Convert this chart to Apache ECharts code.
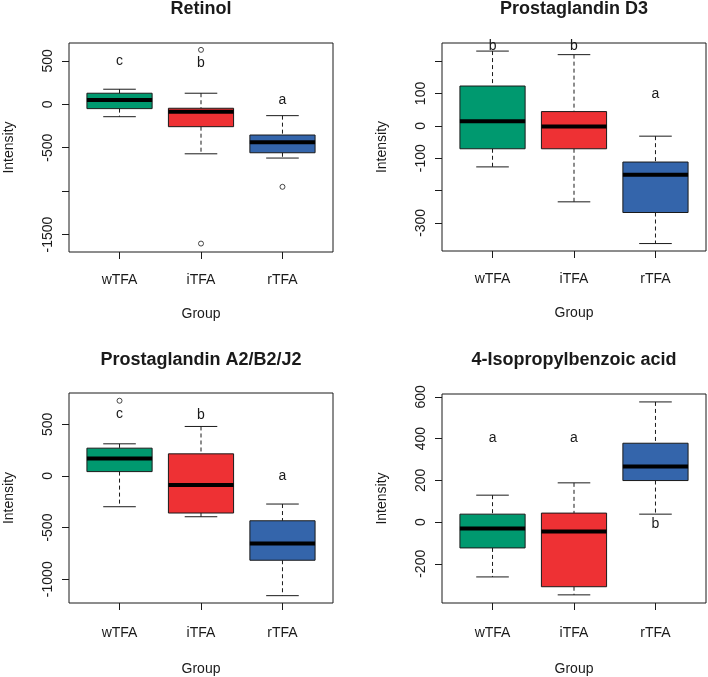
<!DOCTYPE html>
<html><head><meta charset="utf-8">
<script src="https://cdn.jsdelivr.net/npm/echarts@6/dist/echarts.min.js"></script>
<style>html,body{margin:0;padding:0;background:#fff}#c{width:708px;height:677px}</style>
</head><body><div id="c"></div>
<script>
// ---- data ----
const categories = ['wTFA', 'iTFA', 'rTFA'];
const titles = ['Retinol', 'Prostaglandin D3', 'Prostaglandin A2/B2/J2', '4-Isopropylbenzoic acid'];
// [whiskerLow, Q1, median, Q3, whiskerHigh] per group
const retinolStats = [[-143, -50, 50, 127, 173], [-570, -258, -85, -46, 127], [-619, -558, -438, -354, -131]];
const pgd3Stats = [[-127, -71, 14, 123, 231], [-235, -71, -2, 44, 220], [-364, -268, -151, -112, -32]];
const pga2Stats = [[-298, 42, 168, 269, 311], [-395, -359, -87, 214, 479], [-1159, -816, -653, -434, -272]];
const ipbaStats = [[-263, -124, -31, 38, 129], [-349, -310, -45, 43, 188], [38, 199, 266, 378, 576]];
// outliers [groupIndex(1-based), value]
const retinolOutliers = [[2, 626], [2, -1603], [3, -950]];
const pgd3Outliers = [];
const pga2Outliers = [[1, 728]];
const ipbaOutliers = [];
// significance letters and heights
const retinolLetters = ['c', 'b', 'a'];
const retinolLetterY = [500, 470, 50];
const pgd3Letters = ['b', 'b', 'a'];
const pgd3LetterY = [245, 245, 98];
const pga2Letters = ['c', 'b', 'a'];
const pga2LetterY = [600, 585, 0];
const ipbaLetters = ['a', 'a', 'b'];
const ipbaLetterY = [400, 400, -10];
// y axis ranges, ticks, labels
const yRanges = [[-1700, 705], [-387, 256], [-1230, 803], [-388, 614]];
const yTicks = [[-1500, -1000, -500, 0, 500], [-300, -200, -100, 0, 100, 200], [-1000, -500, 0, 500], [-200, 0, 200, 400, 600]];
const yLabels = [[-1500, -500, 0, 500], [-300, -100, 0, 100], [-1000, -500, 0, 500], [-200, 0, 200, 400, 600]];

const fillColors = ['#00996F', '#EE3134', '#3465AB'];
const ink = '#1a1a1a';
const FONT = '"Liberation Sans", Arial, sans-serif';

const panels = [
  {stats: retinolStats, out: retinolOutliers, letters: retinolLetters, ly: retinolLetterY},
  {stats: pgd3Stats, out: pgd3Outliers, letters: pgd3Letters, ly: pgd3LetterY},
  {stats: pga2Stats, out: pga2Outliers, letters: pga2Letters, ly: pga2LetterY},
  {stats: ipbaStats, out: ipbaOutliers, letters: ipbaLetters, ly: ipbaLetterY}
];
const grids = [
  {left: 69, top: 43, width: 264, height: 209},
  {left: 442, top: 43, width: 264, height: 208},
  {left: 69, top: 393, width: 264, height: 210},
  {left: 442, top: 394, width: 264, height: 209}
];
const titleTops = [0, 0, 351, 351];
const xLabelMargins = [21, 21, 23, 23];
const xNameGaps = [55, 55, 59, 59];

const option = {
  animation: false,
  backgroundColor: '#fff',
  title: titles.map((t, i) => ({
    text: t, left: grids[i].left + grids[i].width / 2, top: titleTops[i], textAlign: 'center', padding: 0,
    textStyle: {fontFamily: FONT, fontSize: 18, fontWeight: 'bold', color: ink}
  })),
  grid: grids.map(g => Object.assign({show: true, borderColor: ink, borderWidth: 1, backgroundColor: 'transparent'}, g)),
  xAxis: grids.map((g, i) => ({
    type: 'value', gridIndex: i, min: 0.38, max: 3.62, position: 'bottom',
    name: 'Group', nameLocation: 'middle', nameGap: xNameGaps[i],
    nameTextStyle: {fontFamily: FONT, fontSize: 14, color: ink},
    axisLine: {show: false, onZero: false}, splitLine: {show: false},
    axisTick: {show: true, inside: false, length: 7, customValues: [1, 2, 3], lineStyle: {color: ink}},
    axisLabel: {customValues: [1, 2, 3], margin: xLabelMargins[i], fontFamily: FONT, fontSize: 14, color: ink,
      formatter: v => categories[Math.round(v) - 1] || ''}
  })),
  yAxis: grids.map((g, i) => ({
    type: 'value', gridIndex: i, min: yRanges[i][0], max: yRanges[i][1], position: 'left',
    name: 'Intensity', nameLocation: 'middle', nameGap: 53,
    nameTextStyle: {fontFamily: FONT, fontSize: 14, color: ink},
    axisLine: {show: false, onZero: false}, splitLine: {show: false},
    axisTick: {show: true, inside: false, length: 7, customValues: yTicks[i], lineStyle: {color: ink}},
    axisLabel: {customValues: yLabels[i], rotate: 90, margin: 14, fontFamily: FONT, fontSize: 14, color: ink,
      formatter: v => String(v)}
  })),
  series: []
};

panels.forEach((p, i) => {
  option.series.push({
    type: 'custom', xAxisIndex: i, yAxisIndex: i,
    encode: {x: 0, y: [1, 2, 3, 4, 5]},
    data: p.stats.map((s, k) => [k + 1].concat(s)),
    renderItem: function (params, api) {
      const x = api.value(0);
      const k = Math.round(x) - 1;
      const bw = api.size([0.8, 0])[0];
      const cw = bw / 2;
      const pLo = api.coord([x, api.value(1)]);
      const pQ1 = api.coord([x, api.value(2)]);
      const pMd = api.coord([x, api.value(3)]);
      const pQ3 = api.coord([x, api.value(4)]);
      const pHi = api.coord([x, api.value(5)]);
      const cx = pMd[0];
      const dash = {stroke: ink, lineWidth: 1, lineDash: [4, 3]};
      const solid = {stroke: ink, lineWidth: 1};
      return {
        type: 'group',
        children: [
          {type: 'line', shape: {x1: cx, y1: pHi[1], x2: cx, y2: pQ3[1]}, style: dash},
          {type: 'line', shape: {x1: cx, y1: pQ1[1], x2: cx, y2: pLo[1]}, style: dash},
          {type: 'line', shape: {x1: cx - cw / 2, y1: pHi[1], x2: cx + cw / 2, y2: pHi[1]}, style: solid},
          {type: 'line', shape: {x1: cx - cw / 2, y1: pLo[1], x2: cx + cw / 2, y2: pLo[1]}, style: solid},
          {type: 'rect', shape: {x: cx - bw / 2, y: pQ3[1], width: bw, height: pQ1[1] - pQ3[1]},
            style: {fill: fillColors[k], stroke: ink, lineWidth: 1}},
          {type: 'line', shape: {x1: cx - bw / 2, y1: pMd[1], x2: cx + bw / 2, y2: pMd[1]},
            style: {stroke: '#000', lineWidth: 4}}
        ]
      };
    },
    z: 2
  });
  if (p.out.length) {
    option.series.push({
      type: 'scatter', xAxisIndex: i, yAxisIndex: i, data: p.out,
      symbol: 'circle', symbolSize: 5,
      itemStyle: {color: '#fff', borderColor: ink, borderWidth: 1}, z: 3
    });
  }
  option.series.push({
    type: 'custom', xAxisIndex: i, yAxisIndex: i,
    encode: {x: 0, y: 1},
    data: p.letters.map((l, k) => [k + 1, p.ly[k]]),
    renderItem: function (params, api) {
      const pt = api.coord([api.value(0), api.value(1)]);
      return {
        type: 'text', x: pt[0], y: pt[1],
        style: {text: p.letters[params.dataIndex], fill: ink, font: '14px ' + FONT, align: 'center', verticalAlign: 'middle'}
      };
    },
    z: 4
  });
});

const chart = echarts.init(document.getElementById('c'), null, {renderer: 'canvas'});
chart.setOption(option);
</script>
</body></html>
